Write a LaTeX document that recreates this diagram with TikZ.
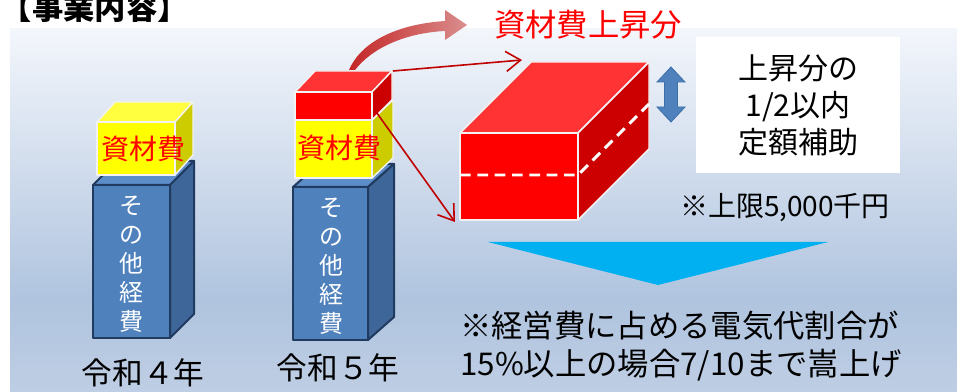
\documentclass[tikz,border=0pt]{standalone}
\usepackage{fontspec}
\setmainfont{Noto Sans CJK JP}
\usetikzlibrary{arrows.meta}

\definecolor{bgtop}{RGB}{243,246,251}
\definecolor{bgmid}{RGB}{176,196,223}
\definecolor{bgbot}{RGB}{190,206,228}
\definecolor{bluefront}{RGB}{79,129,189}
\definecolor{blueside}{RGB}{62,102,152}
\definecolor{bluetop}{RGB}{92,141,200}
\definecolor{navyline}{RGB}{32,58,96}
\definecolor{yellowfront}{RGB}{255,255,0}
\definecolor{yellowtop}{RGB}{255,255,64}
\definecolor{yellowside}{RGB}{204,204,0}
\definecolor{redfront}{RGB}{255,0,0}
\definecolor{redtop}{RGB}{255,51,51}
\definecolor{redside}{RGB}{204,0,0}
\definecolor{paleline}{RGB}{242,242,242}
\definecolor{arrowred}{RGB}{192,0,0}
\definecolor{swooshdark}{RGB}{196,38,38}
\definecolor{swooshlight}{RGB}{218,142,142}
\definecolor{skyblue}{RGB}{0,176,240}
\definecolor{arrowblue}{RGB}{60,110,168}

\begin{document}
\begin{tikzpicture}[x=0.75pt,y=0.75pt,yscale=-1,xscale=1,
  bluebox/.style={draw=navyline,line width=1.5pt,line join=round},
  paleedge/.style={draw=paleline,line width=1.1pt,line join=round},
  costarrow/.style={draw=arrowred,line width=1.2pt,-{Straight Barb[length=11pt,width=15pt,line width=1.2pt]}},
  cjklabel/.style={inner sep=0pt,align=center}]
\useasboundingbox (0,0) rectangle (957,392);
%Background panel
\fill[white] (0,0) rectangle (957,392);
\shade[top color=bgtop,bottom color=bgmid] (10,29) rectangle (957,300);
\shade[top color=bgmid,bottom color=bgbot] (10,300) rectangle (957,392);

%Shape: Cube (left, other costs)
\draw[bluebox,fill=bluetop] (93,185) -- (117,161) -- (194,161) -- (170,185) -- cycle;
\draw[bluebox,fill=blueside] (170,185) -- (194,161) -- (194,314) -- (170,338) -- cycle;
\draw[bluebox,fill=bluefront] (93,185) rectangle (170,338);
%Shape: Cube (left, materials)
\draw[paleedge,fill=yellowtop] (97,122) -- (115,102) -- (193,102) -- (175,122) -- cycle;
\draw[paleedge,fill=yellowside] (175,122) -- (193,102) -- (193,155) -- (175,175) -- cycle;
\draw[paleedge,fill=yellowfront] (97,122) rectangle (175,175);

%Shape: Cube (middle, other costs)
\draw[bluebox,fill=bluetop] (293,187) -- (319,164) -- (394,164) -- (368,187) -- cycle;
\draw[bluebox,fill=blueside] (368,187) -- (394,164) -- (394,317) -- (368,340) -- cycle;
\draw[bluebox,fill=bluefront] (293,187) rectangle (368,340);
%Shape: Cube (middle, materials)
\draw[paleedge,fill=yellowside] (372,120) -- (393,100) -- (393,158) -- (372,178) -- cycle;
\draw[paleedge,fill=yellowfront] (295,120) rectangle (372,178);
%Shape: Cube (middle, increase)
\draw[paleedge,fill=redtop] (295,92) -- (315,71) -- (392,71) -- (372,92) -- cycle;
\draw[paleedge,fill=redside] (372,92) -- (392,71) -- (392,100) -- (372,120) -- cycle;
\draw[paleedge,fill=redfront] (295,92) rectangle (372,120);

%Shape: Curved block arrow
\shade[left color=swooshdark,right color=swooshlight]
  (349,70) .. controls (362,40) and (400,24) .. (445,21) -- (445,10) -- (467,25)
  -- (445,40) -- (445,31) .. controls (405,33) and (372,48) .. (355,70) -- cycle;

%Shape: Big cube
\draw[paleedge,fill=redtop] (460,133) -- (531,62) -- (649,62) -- (578,133) -- cycle;
\draw[paleedge,fill=redside] (578,133) -- (649,62) -- (649,149) -- (578,220) -- cycle;
\draw[paleedge,fill=redfront] (460,133) rectangle (578,220);
\draw[white,line width=2.2pt,dash pattern=on 8pt off 5pt] (460,175) -- (578,175) -- (649,104);

%Straight Lines
\coordinate (redback) at (393,71);
\coordinate (redfrontedge) at (374,109);
\coordinate (bigtop) at (522,60);
\coordinate (bigfront) at (455,222);
\draw[costarrow] (redback) -- (bigtop);
\draw[costarrow] (redfrontedge) -- (bigfront);

%Shape: Up Down Arrow
\draw[arrowblue,fill=bluefront,line width=0.6pt,line join=miter]
  (671,67) -- (685,82) -- (677.5,82) -- (677.5,107) -- (685,107) -- (671,122)
  -- (657,107) -- (664.5,107) -- (664.5,82) -- (657,82) -- cycle;

%Shape: Triangle
\fill[skyblue] (488,242) -- (828,242) -- (658,285) -- cycle;

% Text Node
\node[cjklabel,font=\fontsize{23.5}{28}\selectfont\bfseries] (title) at (95,8) {【事業内容】};
% Text Node
\node[cjklabel,text=red,font=\fontsize{23.5}{28}\selectfont] (risename) at (588,25) {資材費上昇分};
% Text Node
\node[cjklabel,text=red,font=\fontsize{21}{25}\selectfont] (oldmat) at (143,149) {資材費};
% Text Node
\node[cjklabel,text=red,font=\fontsize{21}{25}\selectfont] (newmat) at (339,148) {資材費};
% Text Node
\node[cjklabel,text=white,font=\fontsize{18}{21.75}\selectfont] (oldother) at (131,264) {そ\\の\\他\\経\\費};
% Text Node
\node[cjklabel,text=white,font=\fontsize{18}{21.75}\selectfont] (newother) at (331,266) {そ\\の\\他\\経\\費};
% Text Node
\node[cjklabel,font=\fontsize{23}{28}\selectfont] (oldyear) at (143,373) {令和４年};
% Text Node
\node[cjklabel,font=\fontsize{23}{28}\selectfont] (newyear) at (338,368) {令和５年};
% Text Node
\node[cjklabel,fill=white,minimum width=153pt,minimum height=102pt,font=\fontsize{22.5}{27.75}\selectfont] (subsidy) at (798,105) {上昇分の\\1/2以内\\定額補助};
% Text Node
\node[cjklabel,font=\fontsize{21}{25}\selectfont] (capnote) at (785,208) {※上限5,000千円};
% Text Node
\node[cjklabel,anchor=west,align=left,font=\fontsize{23.5}{28.5}\selectfont] (ratenote) at (460,346) {※経営費に占める電気代割合が\\15\%以上の場合7/10まで嵩上げ};
\end{tikzpicture}
\end{document}
